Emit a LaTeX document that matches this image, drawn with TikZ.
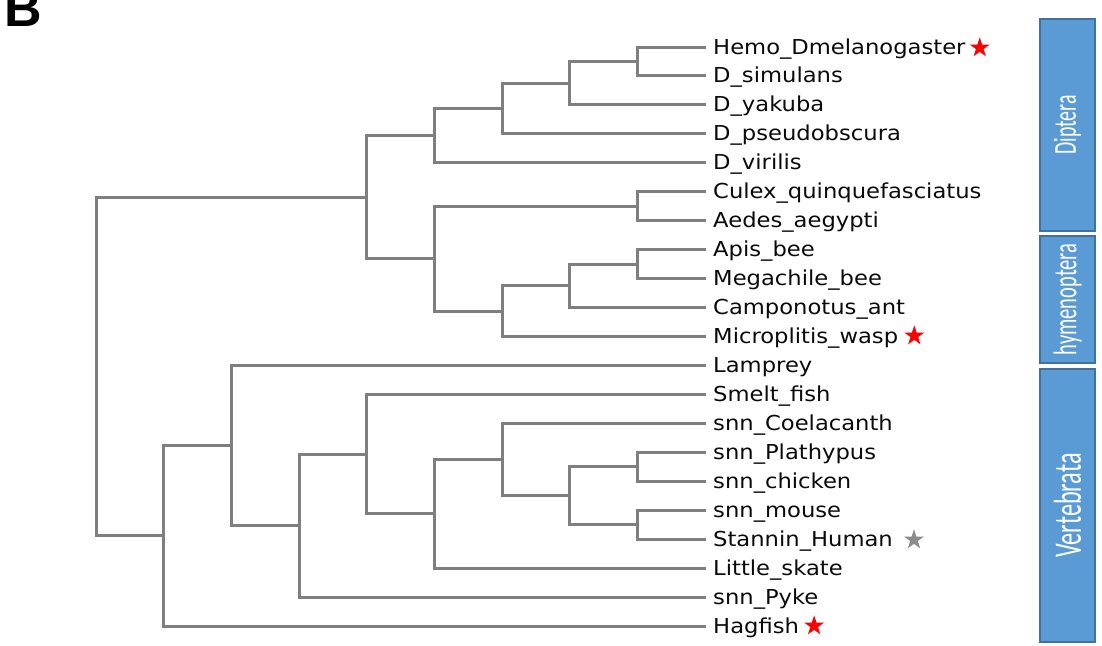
\documentclass[tikz,border=0pt]{standalone}
\usepackage{fontspec}
\setmainfont[FakeStretch=1.1]{DejaVu Sans}
\newfontfamily\barfont[FakeStretch=0.62]{Carlito}
\newfontfamily\panelfont{Liberation Sans}
\usetikzlibrary{shapes.geometric,calc}
\definecolor{treegray}{HTML}{7F7F7F}
\definecolor{barblue}{HTML}{5B9BD5}
\definecolor{barline}{HTML}{41719C}
\definecolor{txt}{HTML}{0A0A0A}
\definecolor{stargray}{HTML}{8C8C8C}
\begin{document}
\begin{tikzpicture}[x=1pt,y=-1pt,
  branch/.style={draw=treegray,line width=3pt},
  leaflabel/.style={anchor=base west,inner sep=0pt,text=txt,font=\fontsize{20.6}{24}\selectfont},
  redstar/.style={star,star points=5,star point ratio=2.618,fill=red,inner sep=0pt,minimum size=21pt,anchor=center},
  graystar/.style={redstar,fill=stargray},
  clade/.style={draw=barline,line width=2pt,fill=barblue,inner sep=0pt,minimum width=55pt},
  cladetext/.style={text=white,rotate=90,inner sep=0pt},
]
\useasboundingbox (0,0) rectangle (1102,645);

% panel letter
\node[anchor=base west,inner sep=0pt,font=\panelfont\bfseries\fontsize{52}{52}\selectfont] (panel) at (4,27) {B};

% leaf ends
\coordinate (l0) at (705.5,47.5);
\coordinate (l1) at (705.5,75.5);
\coordinate (l2) at (705.5,104.5);
\coordinate (l3) at (705.5,133.5);
\coordinate (l4) at (705.5,162.5);
\coordinate (l5) at (705.5,191.5);
\coordinate (l6) at (705.5,220.5);
\coordinate (l7) at (705.5,249.5);
\coordinate (l8) at (705.5,278.5);
\coordinate (l9) at (705.5,307.5);
\coordinate (l10) at (705.5,336.5);
\coordinate (l11) at (705.5,365.5);
\coordinate (l12) at (705.5,394.5);
\coordinate (l13) at (705.5,423.5);
\coordinate (l14) at (705.5,452.5);
\coordinate (l15) at (705.5,481.5);
\coordinate (l16) at (705.5,510.5);
\coordinate (l17) at (705.5,539.5);
\coordinate (l18) at (705.5,568.5);
\coordinate (l19) at (705.5,597.5);
\coordinate (l20) at (705.5,626.5);

% labels
\node[leaflabel] (t0) at (713,54.6) {Hemo\_Dmelanogaster};
\node[leaflabel] (t1) at (713,82.6) {D\_simulans};
\node[leaflabel] (t2) at (713,111.6) {D\_yakuba};
\node[leaflabel] (t3) at (713,140.6) {D\_pseudobscura};
\node[leaflabel] (t4) at (713,169.6) {D\_virilis};
\node[leaflabel] (t5) at (713,198.6) {Culex\_quinquefasciatus};
\node[leaflabel] (t6) at (713,227.6) {Aedes\_aegypti};
\node[leaflabel] (t7) at (713,256.6) {Apis\_bee};
\node[leaflabel] (t8) at (713,285.6) {Megachile\_bee};
\node[leaflabel] (t9) at (713,314.6) {Camponotus\_ant};
\node[leaflabel] (t10) at (713,343.6) {Microplitis\_wasp};
\node[leaflabel] (t11) at (713,372.6) {Lamprey};
\node[leaflabel] (t12) at (713,401.6) {Smelt\_fish};
\node[leaflabel] (t13) at (713,430.6) {snn\_Coelacanth};
\node[leaflabel] (t14) at (713,459.6) {snn\_Plathypus};
\node[leaflabel] (t15) at (713,488.6) {snn\_chicken};
\node[leaflabel] (t16) at (713,517.6) {snn\_mouse};
\node[leaflabel] (t17) at (713,546.6) {Stannin\_Human};
\node[leaflabel] (t18) at (713,575.6) {Little\_skate};
\node[leaflabel] (t19) at (713,604.6) {snn\_Pyke};
\node[leaflabel] (t20) at (713,633.6) {Hagfish};

% stars
\node[redstar] (s0) at ($(t0.base east)+(14,-6.8)$) {};
\node[redstar] (s10) at ($(t10.base east)+(16,-7.8)$) {};
\node[graystar] (s17) at ($(t17.base east)+(21,-6.8)$) {};
\node[redstar] (s20) at ($(t20.base east)+(15,-7.8)$) {};

% internal nodes (insects)
\coordinate (n1) at (637.5,61.5);
\coordinate (n2) at (569.5,83.5);
\coordinate (n3) at (502.5,108.5);
\coordinate (n4) at (434.5,135.5);
\coordinate (n5) at (637.5,206.5);
\coordinate (n6) at (637.5,264.5);
\coordinate (n7) at (569.5,285.5);
\coordinate (n8) at (502.5,311.5);
\coordinate (n9) at (434.5,258.5);
\coordinate (n10) at (366.5,197.5);
% internal nodes (vertebrates)
\coordinate (v1) at (637.5,466.5);
\coordinate (v2) at (637.5,524.5);
\coordinate (v3) at (569.5,495.5);
\coordinate (v4) at (502.5,459.5);
\coordinate (v5) at (434.5,513.5);
\coordinate (v6) at (366.5,454.5);
\coordinate (v7) at (299.5,525.5);
\coordinate (v8) at (231.5,445.5);
\coordinate (v9) at (163.5,535.5);
\coordinate (root) at (96.5,366.5);

% branches
\draw[branch] (n1) |- (l0);  \draw[branch] (n1) |- (l1);
\draw[branch] (n2) |- (n1);  \draw[branch] (n2) |- (l2);
\draw[branch] (n3) |- (n2);  \draw[branch] (n3) |- (l3);
\draw[branch] (n4) |- (n3);  \draw[branch] (n4) |- (l4);
\draw[branch] (n5) |- (l5);  \draw[branch] (n5) |- (l6);
\draw[branch] (n6) |- (l7);  \draw[branch] (n6) |- (l8);
\draw[branch] (n7) |- (n6);  \draw[branch] (n7) |- (l9);
\draw[branch] (n8) |- (n7);  \draw[branch] (n8) |- (l10);
\draw[branch] (n9) |- (n5);  \draw[branch] (n9) |- (n8);
\draw[branch] (n10) |- (n4); \draw[branch] (n10) |- (n9);
\draw[branch] (v1) |- (l14); \draw[branch] (v1) |- (l15);
\draw[branch] (v2) |- (l16); \draw[branch] (v2) |- (l17);
\draw[branch] (v3) |- (v1);  \draw[branch] (v3) |- (v2);
\draw[branch] (v4) |- (l13); \draw[branch] (v4) |- (v3);
\draw[branch] (v5) |- (v4);  \draw[branch] (v5) |- (l18);
\draw[branch] (v6) |- (l12); \draw[branch] (v6) |- (v5);
\draw[branch] (v7) |- (v6);  \draw[branch] (v7) |- (l19);
\draw[branch] (v8) |- (l11); \draw[branch] (v8) |- (v7);
\draw[branch] (v9) |- (v8);  \draw[branch] (v9) |- (l20);
\draw[branch] (root) |- (n10); \draw[branch] (root) |- (v9);

% clade bars
\node[clade,minimum height=212pt] (dip) at (1067.5,125) {};
\node[cladetext,font=\barfont\fontsize{32}{32}\selectfont] (diptxt) at (dip) {Diptera};
\node[clade,minimum height=127pt] (hym) at (1067.5,299.5) {};
\node[cladetext,font=\barfont\fontsize{33}{33}\selectfont] (hymtxt) at (hym) {hymenoptera};
\node[clade,minimum height=273pt] (ver) at (1067.5,505.5) {};
\node[cladetext,font=\barfont\fontsize{39}{39}\selectfont] (vertxt) at (ver) {Vertebrata};
\end{tikzpicture}
\end{document}
